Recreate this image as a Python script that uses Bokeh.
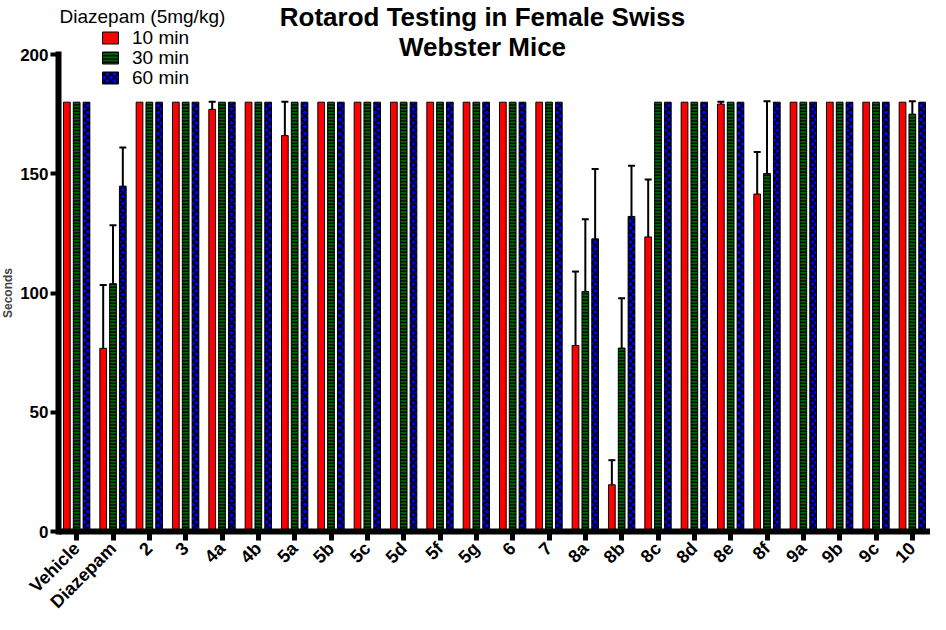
import math
from bokeh.plotting import figure
from bokeh.models import (ColumnDataSource, Range1d, Legend, LegendItem,
                          Label, Whisker, TeeHead, FixedTicker)
from bokeh.transform import dodge
from bokeh.embed import file_html
from bokeh.resources import INLINE

# ---------------- data ----------------
categories = ["Vehicle", "Diazepam", "2", "3", "4a", "4b", "5a", "5b", "5c", "5d", "5f",
              "5g", "6", "7", "8a", "8b", "8c", "8d", "8e", "8f", "9a", "9b", "9c", "10"]
series_labels = ["10 min", "30 min", "60 min"]
min10 = [180, 76.8, 180, 180, 177, 180, 166, 180, 180, 180, 180, 180,
         180, 180, 78, 19.6, 123.5, 180, 179.2, 141.5, 180, 180, 180, 180]
min10_err = [0, 26.6, 0, 0, 3.2, 0, 14.2, 0, 0, 0, 0, 0,
             0, 0, 31, 10.3, 24.1, 0, 1, 17.6, 0, 0, 0, 0]
min30 = [180, 103.9, 180, 180, 180, 180, 180, 180, 180, 180, 180, 180,
         180, 180, 100.6, 76.9, 180, 180, 180, 150.1, 180, 180, 180, 175]
min30_err = [0, 24.5, 0, 0, 0, 0, 0, 0, 0, 0, 0, 0,
             0, 0, 30.3, 20.9, 0, 0, 0, 30.3, 0, 0, 0, 5.4]
min60 = [180, 144.8, 180, 180, 180, 180, 180, 180, 180, 180, 180, 180,
         180, 180, 122.7, 132.1, 180, 180, 180, 180, 180, 180, 180, 180]
min60_err = [0, 16.2, 0, 0, 0, 0, 0, 0, 0, 0, 0, 0,
             0, 0, 29.3, 21.3, 0, 0, 0, 0, 0, 0, 0, 0]
y_ticks = [0, 50, 100, 150, 200]

title_lines = ["Rotarod Testing in Female Swiss", "Webster Mice"]
legend_title = "Diazepam (5mg/kg)"
y_label = "Seconds"

FONT = "Liberation Sans"
W, H = 930, 614
AX_X = 58                # canvas x of the y axis
Y0, Y200 = 531, 54       # canvas y of value 0 and value 200
PPU = (Y0 - Y200) / 200.0
n = len(categories)
UNIT = (W - AX_X) / n    # px per category
pos = list(range(n))

x_start = -0.5 - AX_X / UNIT
x_end = n - 0.5
p = figure(x_range=Range1d(x_start, x_end),
           y_range=Range1d(-(H - Y0) / PPU, Y0 / PPU), width=W, height=H,
           output_backend="svg", toolbar_location=None,
           min_border_left=0, min_border_right=0, min_border_top=0, min_border_bottom=0)
p.outline_line_color = None
p.xgrid.grid_line_color = None
p.ygrid.grid_line_color = None

source = ColumnDataSource(dict(x=pos, cat=categories, m10=min10, m30=min30, m60=min60))

offs = [-0.27, 0.0, 0.27]
bw = 0.185
styles = [
    dict(fill_color="#FF0000"),
    dict(fill_color="#006400", hatch_pattern="-", hatch_color="black", hatch_scale=3.2, hatch_weight=1.4),
    dict(fill_color="#0000FF", hatch_pattern="x", hatch_color="black", hatch_scale=7, hatch_weight=1.6),
]
cols = ["m10", "m30", "m60"]
vals = [min10, min30, min60]
errs = [min10_err, min30_err, min60_err]
renderers = []
for off, st, c in zip(offs, styles, cols):
    r = p.vbar(x=dodge("x", off), top=c, width=bw, source=source,
               line_color="black", line_width=1, **st)
    renderers.append(r)

for off, v, e in zip(offs, vals, errs):
    idx = [i for i in range(n) if e[i] > 0]
    ws = ColumnDataSource(dict(x=idx,
                               lower=[v[i] for i in idx],
                               upper=[v[i] + e[i] for i in idx]))
    w = Whisker(base=dodge("x", off), lower="lower", upper="upper",
                source=ws, line_color="black", line_width=2,
                upper_head=TeeHead(size=7, line_width=2, line_color="black"), lower_head=None,
                level="overlay")
    p.add_layout(w)

# x axis at y = 0, y axis at x = -0.5 (both inside the frame)
p.xaxis.fixed_location = 0
p.xaxis.bounds = (-0.5, x_end)
p.xaxis.ticker = FixedTicker(ticks=pos)
p.xaxis.major_label_overrides = {i: c for i, c in zip(pos, categories)}
p.xaxis.minor_tick_line_color = None
p.xaxis.axis_line_width = 6
p.xaxis.major_tick_line_width = 5
p.xaxis.major_tick_in = 0
p.xaxis.major_tick_out = 9
p.xaxis.major_label_orientation = math.pi / 4
p.xaxis.major_label_standoff = 5
p.xaxis.major_label_text_font = FONT
p.xaxis.major_label_text_font_style = "bold"
p.xaxis.major_label_text_font_size = "18px"
p.xaxis.major_label_text_color = "black"

p.yaxis.fixed_location = -0.5
p.yaxis.bounds = (0, 200)
p.yaxis.ticker = FixedTicker(ticks=y_ticks)
p.yaxis.minor_tick_line_color = None
p.yaxis.axis_line_width = 6
p.yaxis.axis_line_cap = "square"
p.yaxis.major_tick_line_width = 4
p.yaxis.major_tick_in = 0
p.yaxis.major_tick_out = 8
p.yaxis.major_label_standoff = 2
p.yaxis.major_label_text_font = FONT
p.yaxis.major_label_text_font_style = "bold"
p.yaxis.major_label_text_font_size = "17px"
p.yaxis.major_label_text_color = "black"
p.yaxis.axis_label = y_label
p.yaxis.axis_label_text_font = FONT
p.yaxis.axis_label_text_font_style = "bold"
p.yaxis.axis_label_text_font_size = "12px"
p.yaxis.axis_label_standoff = 2

# title (two lines); screen units are relative to the frame's bottom-left
for txt, cy in zip(title_lines, [16, 46]):
    p.add_layout(Label(x=482, y=H - cy, x_units="screen", y_units="screen",
                       text=txt, text_align="center", text_baseline="middle",
                       text_font=FONT, text_font_style="bold", text_font_size="26px",
                       text_color="black"))

# legend title
p.add_layout(Label(x=59, y=H - 16, x_units="screen", y_units="screen",
                   text=legend_title, text_align="left", text_baseline="middle",
                   text_font=FONT, text_font_size="19px", text_color="black"))

# legend entries (location = bottom-left of each one-row legend, row ~22px tall)
for i, (lab, r) in enumerate(zip(series_labels, renderers)):
    row_bottom = 48.5 + 20 * i
    leg = Legend(items=[LegendItem(label=lab, renderers=[r])],
                 location=(100, H - row_bottom),
                 orientation="vertical", padding=0, margin=0, spacing=0,
                 border_line_color=None, background_fill_alpha=0,
                 glyph_width=20, glyph_height=15, label_height=15, label_standoff=12,
                 label_text_font=FONT, label_text_font_size="19px", label_text_color="black")
    p.add_layout(leg)

open("out.html", "w").write(file_html(p, INLINE))
